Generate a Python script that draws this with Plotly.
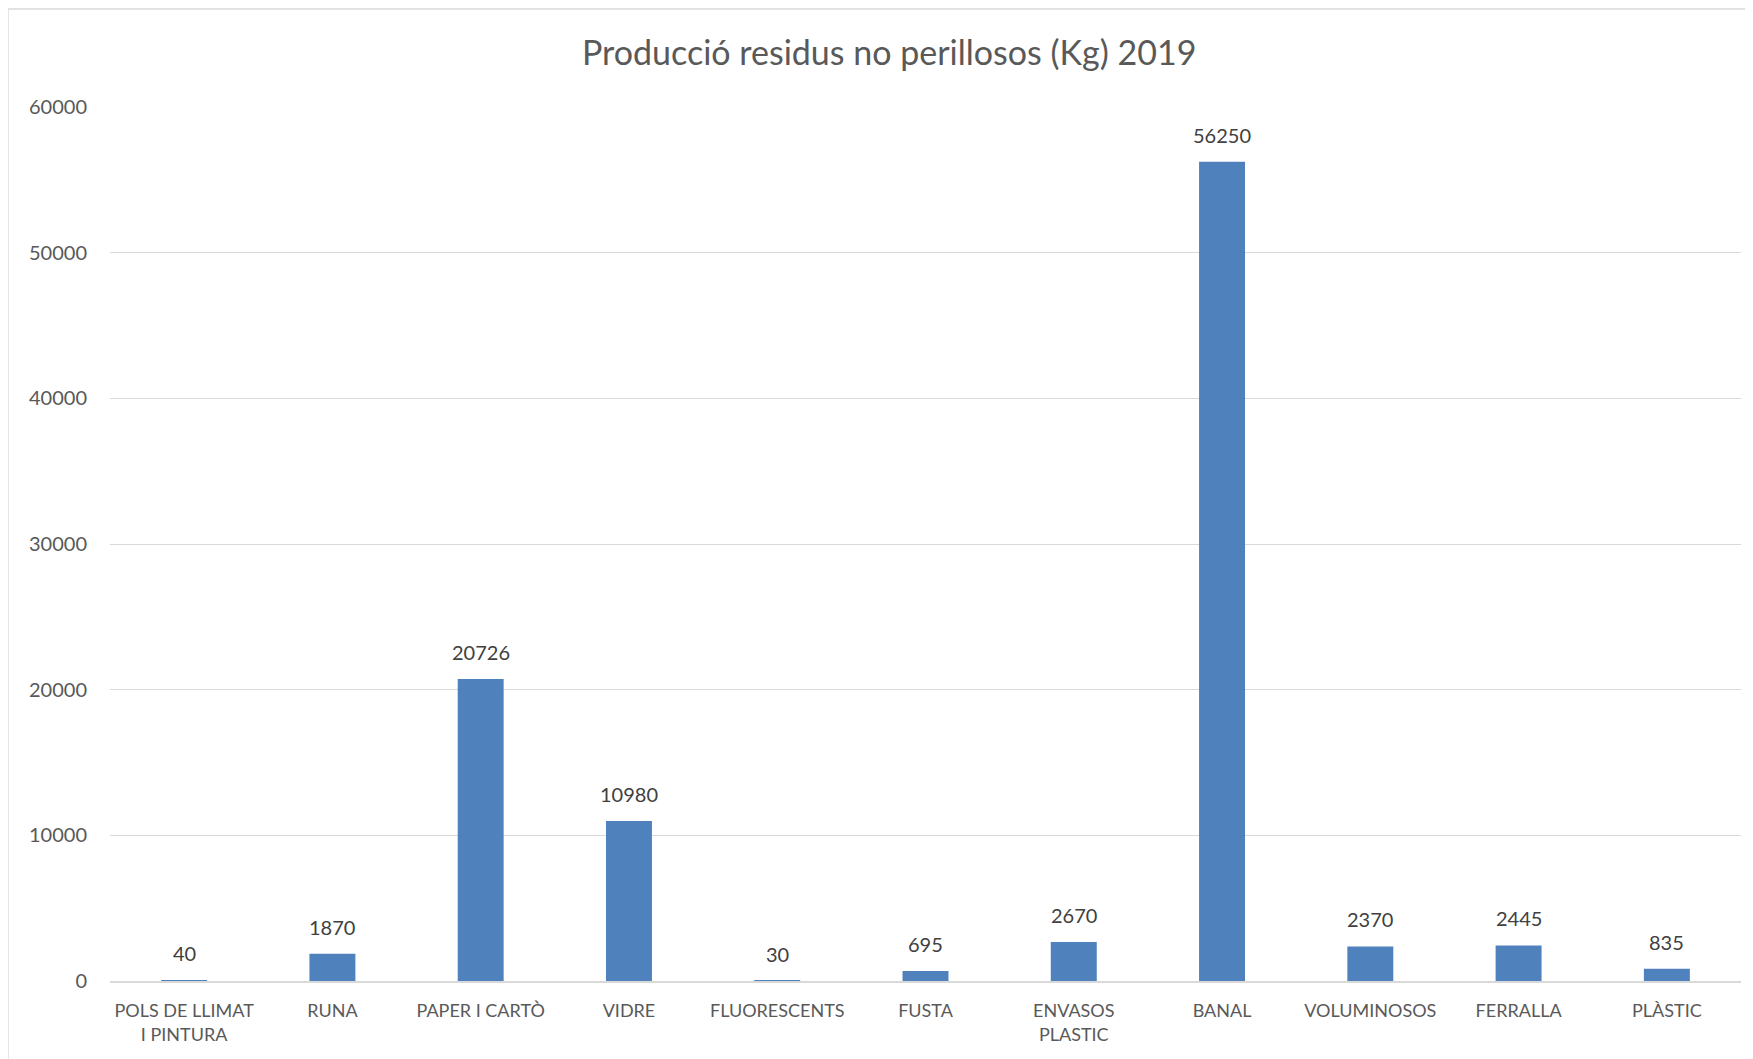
# bar chart: non-hazardous waste production (Kg) 2019

import plotly.graph_objects as go

categories = [
    "POLS DE LLIMAT<br>I PINTURA",
    "RUNA",
    "PAPER I CARTÒ",
    "VIDRE",
    "FLUORESCENTS",
    "FUSTA",
    "ENVASOS<br>PLASTIC",
    "BANAL",
    "VOLUMINOSOS",
    "FERRALLA",
    "PLÀSTIC",
]
kg_2019 = [40, 1870, 20726, 10980, 30, 695, 2670, 56250, 2370, 2445, 835]
y_ticks = [0, 10000, 20000, 30000, 40000, 50000, 60000]

FONT = "Lato, Open Sans, sans-serif"

fig = go.Figure(
    data=[
        go.Bar(
            x=categories,
            y=kg_2019,
            marker=dict(color="#4F81BD", line=dict(width=0)),
            hoverinfo="x+y",
        )
    ]
)

# value labels above the bars
for cat, val in zip(categories, kg_2019):
    fig.add_annotation(
        x=cat,
        y=val,
        text=str(val),
        showarrow=False,
        yanchor="middle",
        yshift=27,
        font=dict(size=20, color="#404040", family=FONT),
    )

# page body adds an 8px offset, so the figure is 8px smaller than the window
fig.update_layout(
    width=1745,
    height=1051,
    plot_bgcolor="white",
    paper_bgcolor="white",
    font=dict(family=FONT, size=18, color="#595959"),
    margin=dict(l=102, r=12, t=99, b=78),
    bargap=0.69,
    showlegend=False,
    title=dict(
        text="Producció residus no perillosos (Kg) 2019",
        x=0.505,
        xanchor="center",
        y=0.957,
        yanchor="middle",
        font=dict(size=34, color="#595959", family=FONT),
    ),
    # outer chart border (cropped at right and bottom)
    shapes=[
        dict(
            type="line", xref="paper", yref="paper",
            x0=-0.0626, x1=-0.0626, y0=-0.2, y1=1.112,
            line=dict(color="#D9D9D9", width=1.5),
        ),
        dict(
            type="line", xref="paper", yref="paper",
            x0=-0.0626, x1=1.2, y0=1.112, y1=1.112,
            line=dict(color="#D9D9D9", width=1.5),
        ),
    ],
)

fig.update_yaxes(
    range=[0, 60000],
    tickvals=y_ticks,
    tickformat="d",
    showgrid=True,
    gridcolor="#D9D9D9",
    gridwidth=1.2,
    zeroline=False,
    showline=False,
    ticks="",
    ticklabelstandoff=22,
    tickfont=dict(size=20, color="#595959"),
)

fig.update_xaxes(
    showline=True,
    linecolor="#D9D9D9",
    linewidth=1.5,
    ticks="",
    tickangle=0,
    tickfont=dict(size=18, color="#595959"),
    ticklabelstandoff=13,
)

fig.write_html("out.html")
